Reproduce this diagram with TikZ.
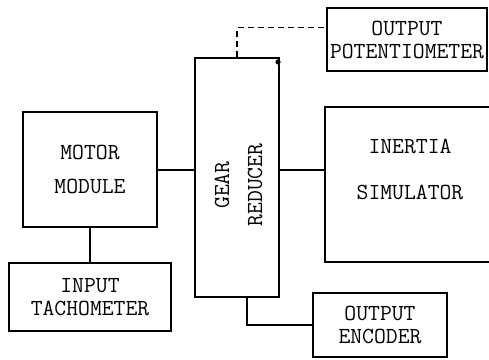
\documentclass[tikz,border=0pt]{standalone}
\usetikzlibrary{calc}
\tikzset{
  box/.style={draw, line width=2pt, inner sep=2pt, align=center,
    font=\fontsize{23}{23}\selectfont\ttfamily},
  lbl/.style={inner sep=0pt, align=center, font=\fontsize{23}{23}\selectfont\ttfamily}
}
\begin{document}
\begin{tikzpicture}[x=1pt, y=-1pt, line width=2pt]
			\useasboundingbox (0,0) rectangle (489,359);
			\clip (0,0) rectangle (489,359);
			% cac khoi
			\node[box, minimum width=134pt, minimum height=115pt] (motor) at (90,169.5) {MOTOR\\[11pt]MODULE};
			\node[box, minimum width=162pt, minimum height=68pt] (tacho) at (90,297) {INPUT\\TACHOMETER};
			\node[box, minimum width=84pt, minimum height=239pt] (gear) at (237,177.5) {};
			\node[lbl, rotate=90] (gearlbl) at (238.5,185) {GEAR\\[10pt]REDUCER};
			\node[box, minimum width=160pt, minimum height=63pt] (pot) at (407,39.5) {OUTPUT\\POTENTIOMETER};
			\node[box, minimum width=172pt, minimum height=155pt] (inertia) at (411,184.5) {};
			\node[lbl] (inertialbl) at (410,169.5) {INERTIA\\[23pt]SIMULATOR};
			\node[box, minimum width=134pt, minimum height=64pt] (enc) at (380,325) {OUTPUT\\ENCODER};
			% cac duong noi
			\draw (motor.east) -- (motor.east -| gear.west);
			\draw (motor.south) -- (tacho.north);
			\draw (gear.east |- motor.east) -- (inertia.west |- motor.east);
			\draw[dash pattern=on 6pt off 4pt, line width=1.8pt] (gear.north) |- ([yshift=12pt]pot.west);
			\draw ([xshift=10pt]gear.south) |- (enc.west);
			\fill ([xshift=-2pt,yshift=-5pt]gear.north east) circle (2.6pt); %cham
		\end{tikzpicture}
\end{document}
